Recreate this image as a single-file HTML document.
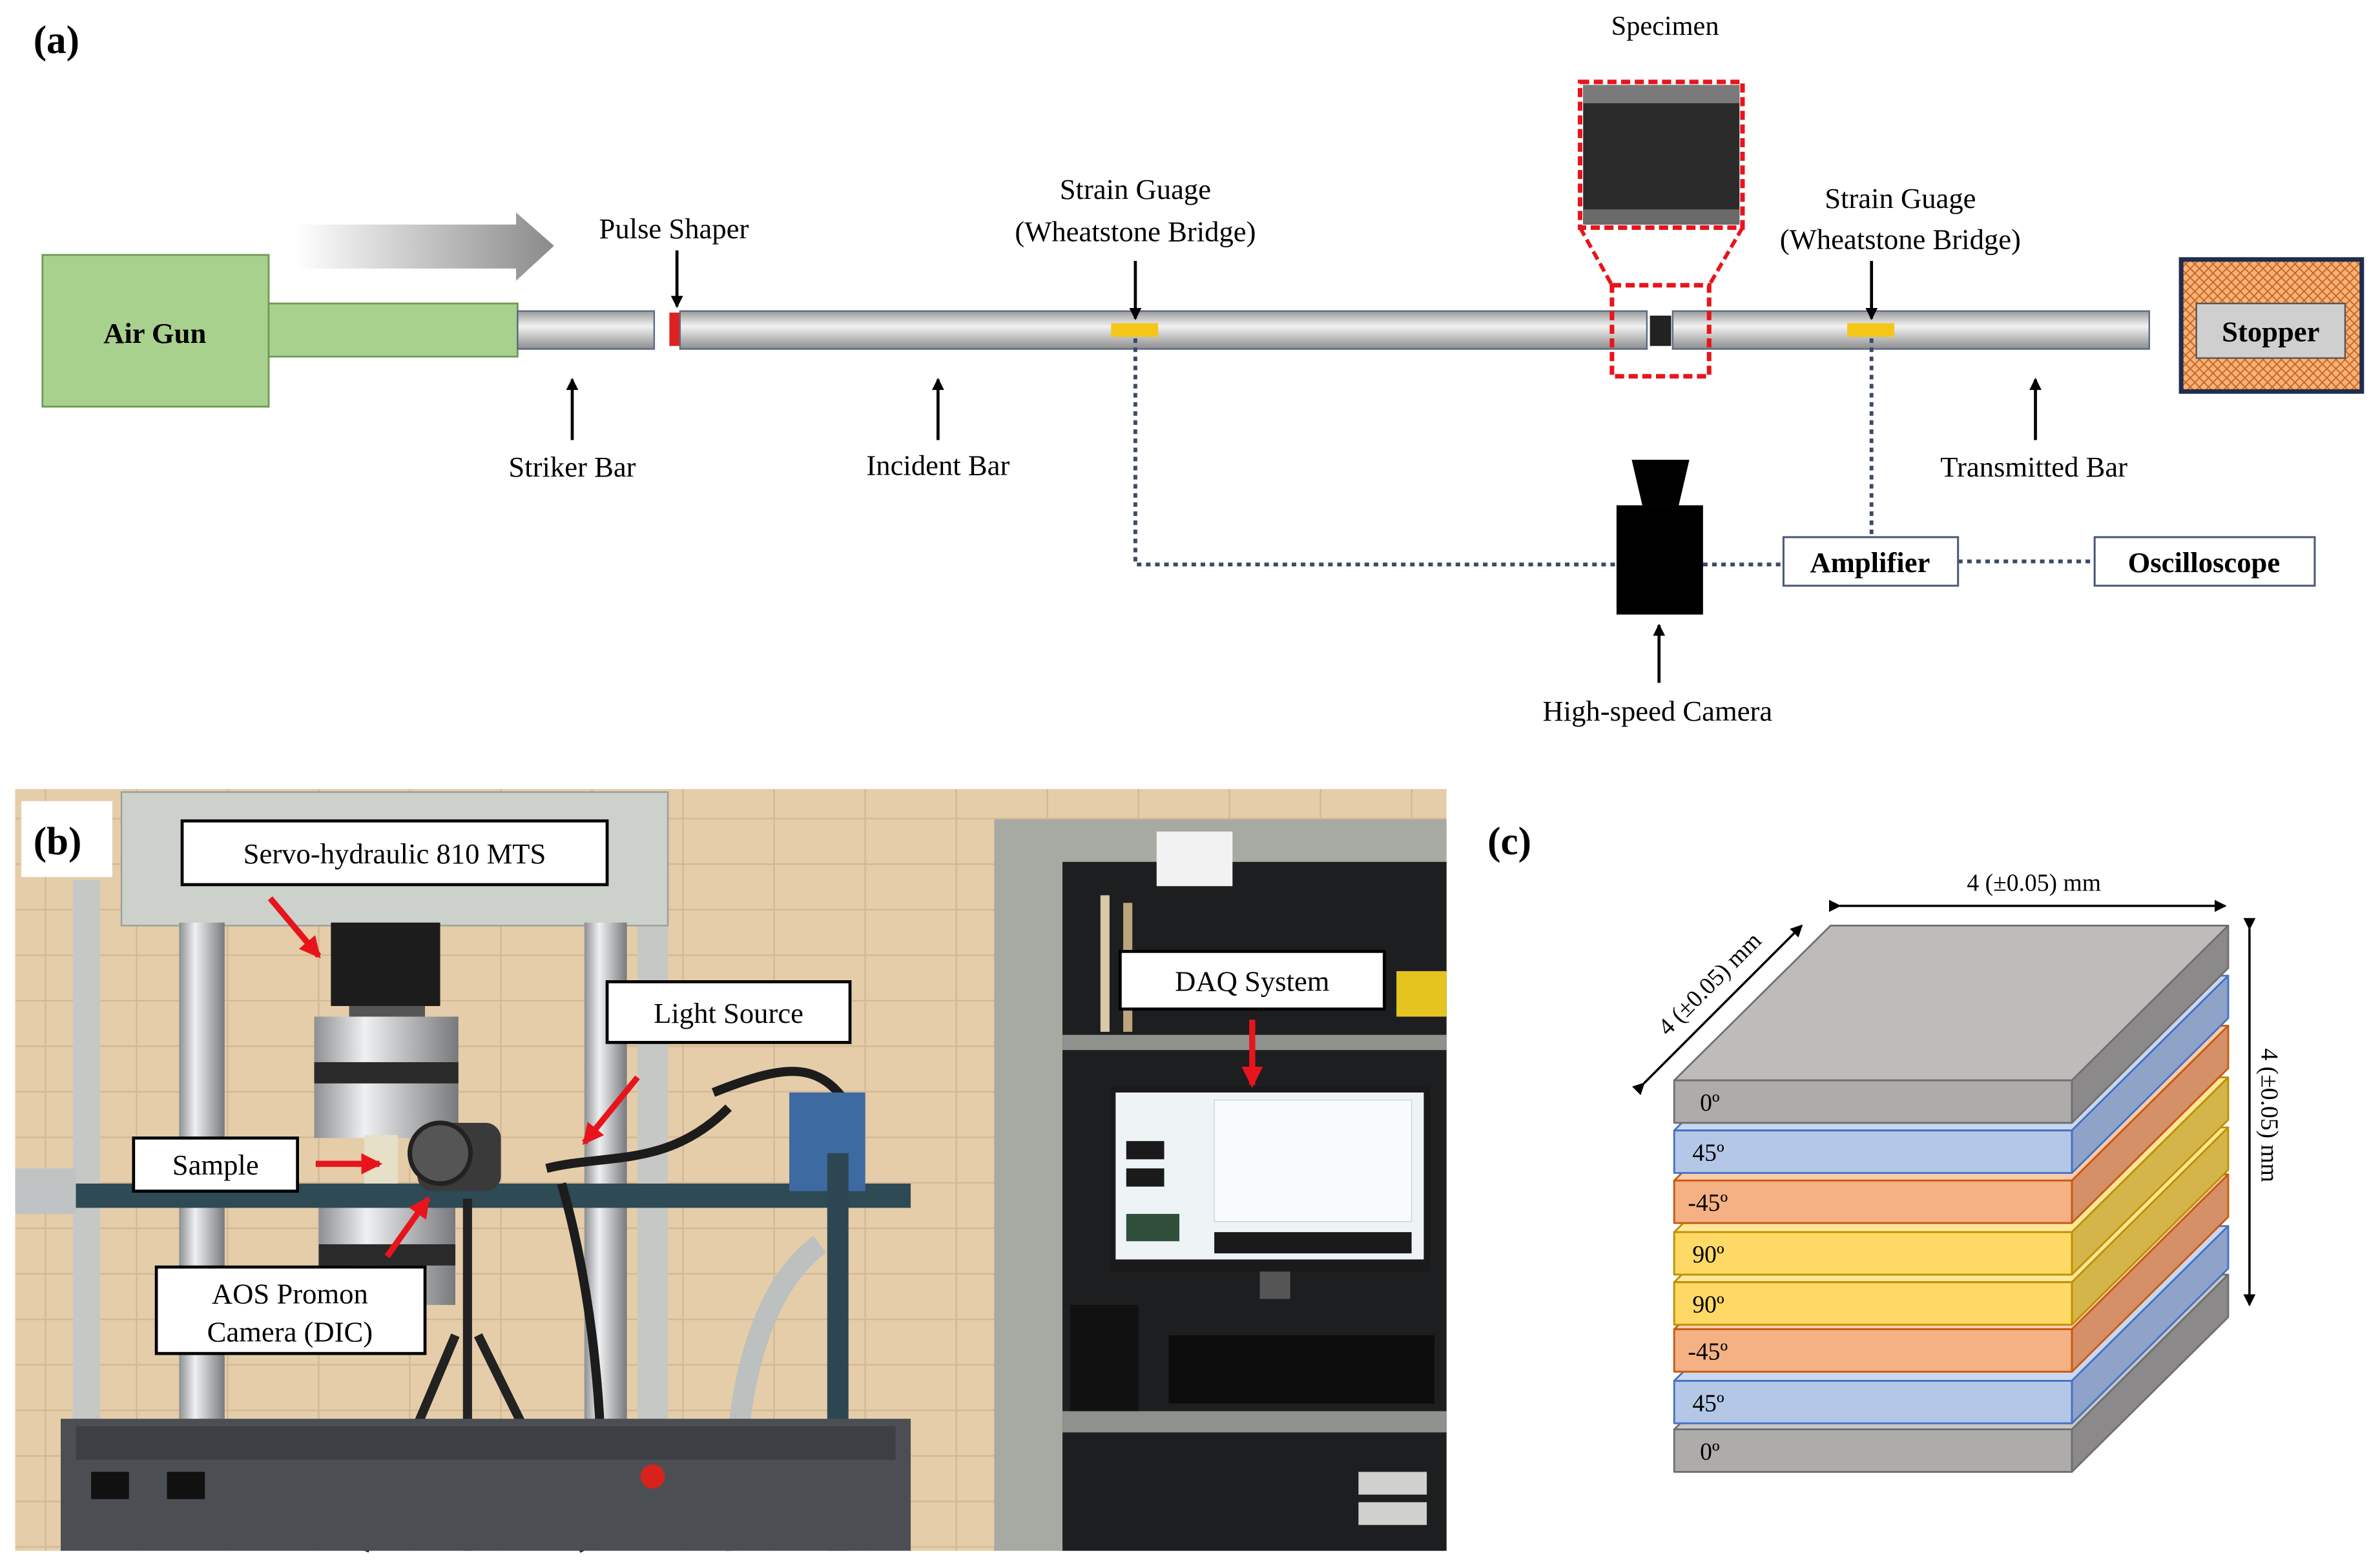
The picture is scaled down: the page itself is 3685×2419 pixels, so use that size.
<!DOCTYPE html>
<html><head><meta charset="utf-8"><style>
html,body{margin:0;padding:0;background:#fff;}
svg{display:block;}
text{font-family:"Liberation Serif","Times New Roman",serif;}
</style></head><body>
<svg width="3685" height="2419" viewBox="0 0 1568 1029.4" preserveAspectRatio="none" xmlns="http://www.w3.org/2000/svg" font-family="Liberation Serif, serif">
<defs>
<marker id="ah" markerWidth="8" markerHeight="8" refX="7" refY="4" orient="auto" markerUnits="userSpaceOnUse"><path d="M0,0 L8,4 L0,8 z" fill="#000"/></marker>
<marker id="ra" markerWidth="14" markerHeight="14" refX="12" refY="7" orient="auto" markerUnits="userSpaceOnUse"><path d="M0,0 L14,7 L0,14 z" fill="#e8141c"/></marker>
<linearGradient id="bar" x1="0" y1="0" x2="0" y2="1"><stop offset="0" stop-color="#9a9a9a"/><stop offset="0.4" stop-color="#f2f2f2"/><stop offset="1" stop-color="#8c8c8c"/></linearGradient>
<linearGradient id="garr" x1="0" y1="0" x2="1" y2="0"><stop offset="0" stop-color="#fff"/><stop offset="1" stop-color="#8a8a8a"/></linearGradient>
<linearGradient id="steel" x1="0" y1="0" x2="1" y2="0"><stop offset="0" stop-color="#8d8f92"/><stop offset="0.35" stop-color="#eef0f2"/><stop offset="1" stop-color="#77797c"/></linearGradient>
<pattern id="hatch" width="6" height="6" patternUnits="userSpaceOnUse"><rect width="6" height="6" fill="#f7b27a"/><path d="M0,0 L6,6 M6,0 L0,6" stroke="#c9651e" stroke-width="0.8"/></pattern>
<pattern id="wall" width="60" height="30" patternUnits="userSpaceOnUse"><rect width="60" height="30" fill="#e6cdaa"/><path d="M0,29.5 H60 M30,0 V30" stroke="#d2b895" stroke-width="1"/></pattern>
</defs>

<!-- ===== Panel (a) ===== -->
<text x="22" y="35" font-size="26" font-weight="bold" font-family="Liberation Serif, serif">(a)</text>
<polygon points="195,148 340,148 340,140 365,162 340,185 340,177 195,177" fill="url(#garr)"/>
<rect x="28" y="168" width="149" height="100" fill="#a9d18e" stroke="#6f9a56" stroke-width="1.2"/>
<rect x="177" y="200" width="164" height="35" fill="#a9d18e" stroke="#6f9a56" stroke-width="1.2"/>
<text x="102" y="226" font-size="19" font-weight="bold" text-anchor="middle" font-family="Liberation Serif, serif">Air Gun</text>
<rect x="341" y="205" width="90" height="25" fill="url(#bar)" stroke="#5a6a80" stroke-width="1"/>
<rect x="441" y="206" width="7" height="22" fill="#e02020"/>
<rect x="448" y="205" width="637" height="25" fill="url(#bar)" stroke="#5a6a80" stroke-width="1"/>
<rect x="1087" y="208" width="14" height="20" fill="#222"/>
<rect x="1102" y="205" width="314" height="25" fill="url(#bar)" stroke="#5a6a80" stroke-width="1"/>
<rect x="732" y="213" width="31" height="9" fill="#f5c518"/>
<rect x="1217" y="213" width="31" height="9" fill="#f5c518"/>
<rect x="1043" y="56" width="103" height="92" fill="#2b2b2b"/>
<rect x="1043" y="56" width="103" height="12" fill="#7a7a7a"/>
<rect x="1043" y="138" width="103" height="10" fill="#6a6a6a"/>
<rect x="1041" y="54" width="107" height="96" fill="none" stroke="#e8141c" stroke-width="3" stroke-dasharray="6,3"/>
<path d="M1041,150 L1062,188 M1148,150 L1126,188" stroke="#e8141c" stroke-width="2.5" stroke-dasharray="6,3" fill="none"/>
<rect x="1062" y="188" width="64" height="60" fill="none" stroke="#e8141c" stroke-width="3" stroke-dasharray="6,3"/>
<text x="1097" y="23" font-size="18" text-anchor="middle" font-family="Liberation Serif, serif">Specimen</text>
<rect x="1437" y="171" width="119" height="87" fill="url(#hatch)" stroke="#1f2d4d" stroke-width="3"/>
<rect x="1447" y="200" width="98" height="36" fill="#cfcfcf" stroke="#555" stroke-width="1"/>
<text x="1496" y="225" font-size="19" font-weight="bold" text-anchor="middle" font-family="Liberation Serif, serif">Stopper</text>
<g font-size="19" text-anchor="middle" font-family="Liberation Serif, serif">
<text x="444" y="157">Pulse Shaper</text>
<text x="748" y="131">Strain Guage</text>
<text x="748" y="159">(Wheatstone Bridge)</text>
<text x="1252" y="137">Strain Guage</text>
<text x="1252" y="164">(Wheatstone Bridge)</text>
<text x="377" y="314">Striker Bar</text>
<text x="618" y="313">Incident Bar</text>
<text x="1340" y="314">Transmitted Bar</text>
<text x="1092" y="475">High-speed Camera</text>
</g>
<g stroke="#000" stroke-width="2" marker-end="url(#ah)">
<line x1="446" y1="165" x2="446" y2="202"/>
<line x1="748" y1="172" x2="748" y2="210"/>
<line x1="1233" y1="172" x2="1233" y2="210"/>
<line x1="377" y1="290" x2="377" y2="250"/>
<line x1="618" y1="290" x2="618" y2="250"/>
<line x1="1341" y1="290" x2="1341" y2="250"/>
<line x1="1093" y1="450" x2="1093" y2="412"/>
</g>
<g stroke="#3c4a66" stroke-width="2.5" stroke-dasharray="3,3" fill="none">
<path d="M748,223 L748,372 L1065,372"/>
<line x1="1122" y1="372" x2="1175" y2="372"/>
<line x1="1290" y1="370" x2="1380" y2="370"/>
<line x1="1233" y1="223" x2="1233" y2="354"/>
</g>
<polygon points="1075,303 1113,303 1106,333 1082,333" fill="#000"/>
<rect x="1065" y="333" width="57" height="72" fill="#000"/>
<rect x="1175" y="354" width="115" height="32" fill="#fff" stroke="#4a5a78" stroke-width="1.3"/>
<text x="1232" y="377" font-size="19" font-weight="bold" text-anchor="middle" font-family="Liberation Serif, serif">Amplifier</text>
<rect x="1380" y="354" width="145" height="32" fill="#fff" stroke="#4a5a78" stroke-width="1.3"/>
<text x="1452" y="377" font-size="19" font-weight="bold" text-anchor="middle" font-family="Liberation Serif, serif">Oscilloscope</text>

<!-- ===== Panel (b) ===== -->
<rect x="10" y="520" width="943" height="502" fill="url(#wall)"/>
<rect x="48" y="580" width="18" height="360" fill="#c5c8c4"/>
<rect x="420" y="560" width="20" height="380" fill="#c5c8c4"/>
<rect x="80" y="522" width="360" height="88" fill="#cdd1cc" stroke="#9a9e9a" stroke-width="1"/>
<rect x="118" y="608" width="30" height="330" fill="url(#steel)"/>
<rect x="385" y="608" width="28" height="330" fill="url(#steel)"/>
<rect x="218" y="608" width="72" height="55" fill="#1c1c1c"/>
<rect x="230" y="663" width="50" height="15" fill="#555"/>
<rect x="207" y="670" width="95" height="80" fill="url(#steel)"/>
<rect x="207" y="700" width="95" height="14" fill="#2a2a2a"/>
<rect x="240" y="748" width="22" height="40" fill="#e6e0c8"/>
<rect x="210" y="790" width="90" height="70" fill="url(#steel)"/>
<rect x="210" y="820" width="90" height="14" fill="#2a2a2a"/>
<rect x="10" y="780" width="590" height="16" fill="#2d4a55"/>
<rect x="10" y="770" width="40" height="30" fill="#bfc3c4"/>
<rect x="275" y="740" width="55" height="45" rx="10" fill="#3a3a3a"/>
<circle cx="290" cy="760" r="20" fill="#555" stroke="#222" stroke-width="3"/>
<g stroke="#222" stroke-width="6" fill="none">
<line x1="308" y1="790" x2="308" y2="1022"/>
<line x1="300" y1="880" x2="240" y2="1022"/>
<line x1="315" y1="880" x2="385" y2="1022"/>
</g>
<g stroke="#1c1c1c" stroke-width="6" fill="none">
<path d="M360,770 C400,760 440,770 480,730"/>
<path d="M370,780 C390,850 400,940 395,1020"/>
<path d="M470,720 C520,700 540,700 560,730"/>
</g>
<rect x="520" y="720" width="50" height="65" fill="#3d6aa0"/>
<rect x="545" y="760" width="14" height="262" fill="#2c4752"/>
<path d="M485,1022 C480,920 500,850 540,820" stroke="#bcc0bf" stroke-width="14" fill="none"/>
<rect x="40" y="935" width="560" height="87" fill="#4b4f54"/>
<rect x="50" y="940" width="540" height="22" fill="#3c3f43"/>
<rect x="60" y="970" width="25" height="18" fill="#111"/><rect x="110" y="970" width="25" height="18" fill="#111"/>
<circle cx="430" cy="973" r="8" fill="#d8231c"/>
<rect x="655" y="540" width="298" height="482" fill="#a7a9a3"/>
<rect x="700" y="568" width="253" height="454" fill="#1c1e20"/>
<rect x="700" y="682" width="253" height="10" fill="#8f918c"/>
<rect x="700" y="930" width="253" height="14" fill="#8f918c"/>
<rect x="762" y="548" width="50" height="36" fill="#f2f2f2"/>
<rect x="725" y="590" width="6" height="90" fill="#d8c9a8"/><rect x="740" y="595" width="6" height="85" fill="#bca57c"/>
<rect x="920" y="640" width="33" height="30" fill="#e6c420"/>
<rect x="731" y="716" width="211" height="122" fill="#1a1a1a"/>
<rect x="735" y="720" width="203" height="110" fill="#eef3f6"/>
<rect x="800" y="725" width="130" height="80" fill="#f8fbfc" stroke="#c9d6de" stroke-width="0.6"/>
<rect x="742" y="752" width="25" height="12" fill="#1a1a1a"/><rect x="742" y="770" width="25" height="12" fill="#1a1a1a"/>
<rect x="742" y="800" width="35" height="18" fill="#2f4f3a"/>
<rect x="800" y="812" width="130" height="14" fill="#1a1a1a"/>
<rect x="830" y="838" width="20" height="18" fill="#555"/>
<rect x="705" y="860" width="45" height="70" fill="#111"/>
<rect x="770" y="880" width="175" height="45" fill="#0d0d0d"/>
<rect x="895" y="970" width="45" height="15" fill="#d0d0cc"/><rect x="895" y="990" width="45" height="15" fill="#d0d0cc"/>
<rect x="14" y="528" width="60" height="50" fill="#fff"/>
<text x="22" y="563" font-size="26" font-weight="bold" font-family="Liberation Serif, serif">(b)</text>
<g font-size="19" text-anchor="middle" font-family="Liberation Serif, serif">
<rect x="120" y="541" width="280" height="42" fill="#fff" stroke="#000" stroke-width="2"/>
<text x="260" y="569">Servo-hydraulic 810 MTS</text>
<rect x="400" y="647" width="160" height="40" fill="#fff" stroke="#000" stroke-width="2"/>
<text x="480" y="674">Light Source</text>
<rect x="738" y="627" width="174" height="38" fill="#fff" stroke="#000" stroke-width="2"/>
<text x="825" y="653">DAQ System</text>
<rect x="88" y="750" width="108" height="35" fill="#fff" stroke="#000" stroke-width="2"/>
<text x="142" y="774">Sample</text>
<rect x="103" y="835" width="177" height="57" fill="#fff" stroke="#000" stroke-width="2"/>
<text x="191" y="859">AOS Promon</text>
<text x="191" y="884">Camera (DIC)</text>
</g>
<g stroke="#e8141c" stroke-width="4" marker-end="url(#ra)">
<line x1="178" y1="592" x2="210" y2="630"/>
<line x1="208" y1="767" x2="250" y2="767"/>
<line x1="255" y1="828" x2="282" y2="790"/>
<line x1="420" y1="710" x2="385" y2="753"/>
<line x1="825" y1="672" x2="825" y2="715"/>
</g>

<!-- ===== Panel (c) ===== -->
<text x="980" y="563" font-size="26" font-weight="bold" font-family="Liberation Serif, serif">(c)</text>
<g stroke-width="1.2" stroke-linejoin="round">
<g stroke="#6f6f6f"><polygon points="1103,942 1365,942 1468,840 1206,840" fill="#c9c6c6"/><polygon points="1365,942 1468,840 1468,868 1365,970" fill="#8b8989"/><rect x="1103" y="942" width="262" height="28" fill="#aeabab"/></g>
<g stroke="#4472c4"><polygon points="1103,910 1365,910 1468,808 1206,808" fill="#c9d8f0"/><polygon points="1365,910 1468,808 1468,836 1365,938" fill="#8fa3c8"/><rect x="1103" y="910" width="262" height="28" fill="#b4c7e7"/></g>
<g stroke="#c55a11"><polygon points="1103,876 1365,876 1468,774 1206,774" fill="#f8cbad"/><polygon points="1365,876 1468,774 1468,802 1365,904" fill="#d69068"/><rect x="1103" y="876" width="262" height="28" fill="#f4b183"/></g>
<g stroke="#bf9000"><polygon points="1103,845 1365,845 1468,743 1206,743" fill="#ffe699"/><polygon points="1365,845 1468,743 1468,771 1365,873" fill="#d4b54a"/><rect x="1103" y="845" width="262" height="28" fill="#ffd966"/></g>
<g stroke="#bf9000"><polygon points="1103,812 1365,812 1468,710 1206,710" fill="#ffe699"/><polygon points="1365,812 1468,710 1468,738 1365,840" fill="#d4b54a"/><rect x="1103" y="812" width="262" height="28" fill="#ffd966"/></g>
<g stroke="#c55a11"><polygon points="1103,778 1365,778 1468,676 1206,676" fill="#f8cbad"/><polygon points="1365,778 1468,676 1468,704 1365,806" fill="#d69068"/><rect x="1103" y="778" width="262" height="28" fill="#f4b183"/></g>
<g stroke="#4472c4"><polygon points="1103,745 1365,745 1468,643 1206,643" fill="#c9d8f0"/><polygon points="1365,745 1468,643 1468,671 1365,773" fill="#8fa3c8"/><rect x="1103" y="745" width="262" height="28" fill="#b4c7e7"/></g>
<g stroke="#6f6f6f"><polygon points="1103,712 1365,712 1468,610 1206,610" fill="#bfbbbb"/><polygon points="1365,712 1468,610 1468,638 1365,740" fill="#8b8989"/><rect x="1103" y="712" width="262" height="28" fill="#aeabab"/></g>
</g>
<g font-size="16" font-family="Liberation Serif, serif">
<text x="1120" y="732">0º</text>
<text x="1115" y="765">45º</text>
<text x="1112" y="798">-45º</text>
<text x="1115" y="832">90º</text>
<text x="1115" y="865">90º</text>
<text x="1112" y="896">-45º</text>
<text x="1115" y="930">45º</text>
<text x="1120" y="962">0º</text>
</g>
<g stroke="#000" stroke-width="1.5" marker-end="url(#ah)" marker-start="url(#ah)">
<line x1="1212" y1="597" x2="1466" y2="597"/>
<line x1="1083" y1="714" x2="1187" y2="610"/>
<line x1="1482" y1="612" x2="1482" y2="860"/>
</g>
<g font-size="16" text-anchor="middle" font-family="Liberation Serif, serif">
<text x="1340" y="587">4 (±0.05) mm</text>
<text x="0" y="0" transform="translate(1130,652) rotate(-45)">4 (±0.05) mm</text>
<text x="0" y="0" transform="translate(1490,735) rotate(90)">4 (±0.05) mm</text>
</g>
</svg>
</body></html>
